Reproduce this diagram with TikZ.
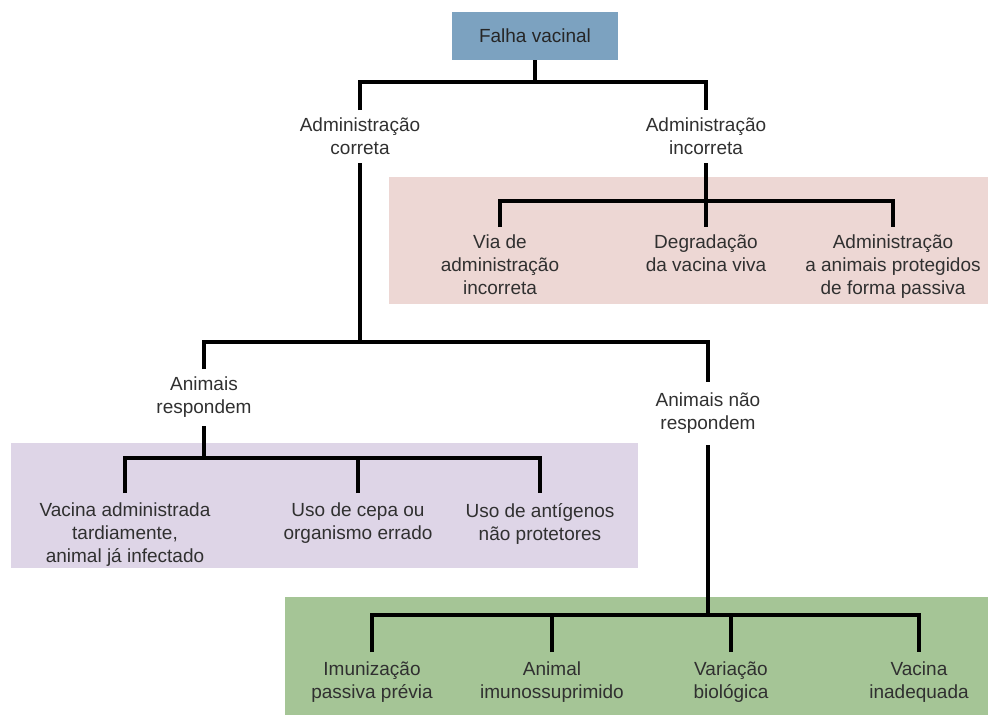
\documentclass[tikz,border=0pt]{standalone}
\usepackage{fontspec}
\setmainfont{Liberation Sans}
\definecolor{boxblue}{RGB}{124,162,192}
\definecolor{panelpink}{RGB}{237,215,212}
\definecolor{panelviolet}{RGB}{222,213,231}
\definecolor{panelgreen}{RGB}{165,197,150}
\definecolor{txtgray}{RGB}{48,48,48}

\begin{document}
\begin{tikzpicture}[x=1pt,y=-1pt]
            \tikzset{tlabel/.style = {align=center, text=txtgray, inner xsep=2pt, inner ysep=8pt, anchor=north, font=\fontsize{19}{23}\selectfont}}
            \tikzset{rootbox/.style = {fill=boxblue, text=black!85, minimum width=166pt, minimum height=48pt, font=\fontsize{19}{23}\selectfont}}
            \tikzset{bar/.style = {line width=4pt, black}}
            \useasboundingbox (0,0) rectangle (988,715);
            
            \fill[panelpink] (389,177) rectangle (988,304);
            \fill[panelviolet] (11,443) rectangle (638,568);
            \fill[panelgreen] (285,597) rectangle (988,715);
            
            \node[rootbox] (falha) at (535,36) {Falha vacinal};
            \node[tlabel] (correta) at (360,110) {Administração\\correta};
            \node[tlabel] (incorreta) at (706,110) {Administração\\incorreta};
            
            \node[tlabel] (via) at (500,227) {Via de\\administração\\incorreta};
            \node[tlabel] (degrad) at (706,227) {Degradação\\da vacina viva};
            \node[tlabel] (passiva) at (893,227) {Administração\\a animais protegidos\\de forma passiva};
            
            \node[tlabel] (respondem) at (204,369) {Animais\\respondem};
            \node[tlabel, inner ysep=11pt] (naoresp) at (708,382) {Animais não\\respondem};
            
            \node[tlabel, inner ysep=10pt] (tardia) at (125,493) {Vacina administrada\\tardiamente,\\animal já infectado};
            \node[tlabel, inner ysep=10pt] (cepa) at (358,493) {Uso de cepa ou\\organismo errado};
            \node[tlabel, inner ysep=10pt] (antig) at (540,493) {Uso de antígenos\\não protetores};
            
            \node[tlabel, inner ysep=10pt] (passprev) at (372,652) {Imunização\\passiva prévia};
            \node[tlabel, inner ysep=10pt] (imuno) at (552,652) {Animal\\imunossuprimido};
            \node[tlabel, inner ysep=10pt] (variacao) at (731,652) {Variação\\biológica};
            \node[tlabel, inner ysep=10pt] (inadeq) at (919,652) {Vacina\\inadequada};
            
            \coordinate (j1) at (535,82);
            \coordinate (j2) at (706,201);
            \coordinate (j3) at (360,342);
            \coordinate (j4) at (204,458);
            \coordinate (j5) at (708,615);
            
            \draw[bar] (falha.south)--(j1);
            \draw[bar] (correta.north) |- (j1) -| (incorreta.north);
            
            \draw[bar] (incorreta.south)--(j2);
            \draw[bar] (via.north) |- (j2) -| (passiva.north);
            \draw[bar] (j2)--(degrad.north);
            
            \draw[bar] (correta.south)--(j3);
            \draw[bar] (respondem.north) |- (j3) -| (naoresp.north);
            
            \draw[bar] (respondem.south)--(j4);
            \draw[bar] (tardia.north) |- (j4) -| (antig.north);
            \draw[bar] (cepa.north)--(cepa.north |- j4);
            
            \draw[bar] (naoresp.south)--(j5);
            \draw[bar] (passprev.north) |- (j5) -| (inadeq.north);
            \draw[bar] (imuno.north)--(imuno.north |- j5);
            \draw[bar] (variacao.north)--(variacao.north |- j5);
            
        \end{tikzpicture}
\end{document}
